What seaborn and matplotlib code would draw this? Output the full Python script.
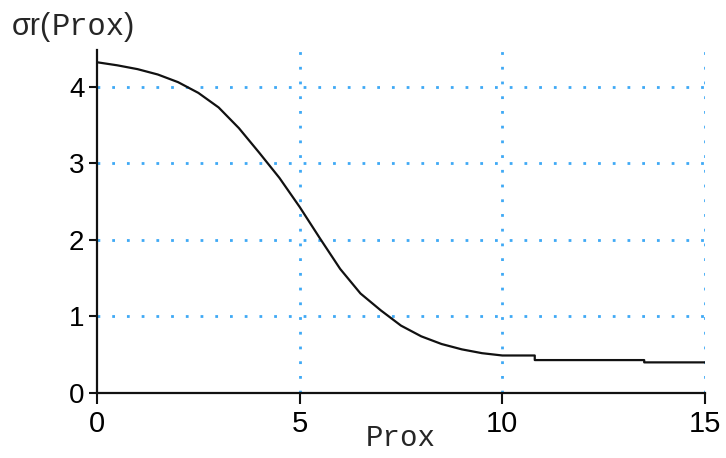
import numpy as np
import pandas as pd
import matplotlib
matplotlib.use("Agg")
import matplotlib.pyplot as plt
import seaborn as sns
from matplotlib.offsetbox import TextArea, HPacker, AnchoredOffsetbox

# curve
prox = [0, 0.5, 1, 1.5, 2, 2.5, 3, 3.5, 4, 4.5, 5, 5.5, 6, 6.5, 7, 7.5,
        8, 8.5, 9, 9.5, 10, 10.8, 10.8, 13.5, 13.5, 15]
sigma_r = [4.32, 4.28, 4.23, 4.16, 4.06, 3.92, 3.73, 3.46, 3.14, 2.81, 2.43,
           2.02, 1.62, 1.30, 1.08, 0.88, 0.74, 0.64, 0.57, 0.52, 0.49, 0.49,
           0.43, 0.43, 0.40, 0.40]
x_ticks = [0, 5, 10, 15]
y_ticks = [0, 1, 2, 3, 4]

GRID = '#3fa9f5'
SANS = 'Liberation Sans'
MONO = 'Liberation Mono'

sns.set_theme(style='white')
plt.rcParams['font.family'] = [SANS, 'DejaVu Sans']

df = pd.DataFrame({'Prox': prox, 'sigma': sigma_r})

fig = plt.figure(figsize=(7.26, 4.58), dpi=100)
ax = fig.add_axes([97 / 726, 1 - 393 / 458, 608 / 726, 343 / 458])

for v in x_ticks[1:]:
    ax.axvline(v, color=GRID, lw=2, ls=(0, (1, 4.3)), zorder=1)
for v in y_ticks[1:]:
    ax.axhline(v, color=GRID, lw=2, ls=(0, (1, 4.3)), zorder=1)

sns.lineplot(data=df, x='Prox', y='sigma', ax=ax, color='#111111',
             lw=1.6, sort=False, estimator=None, zorder=3)

ax.set_xlim(0, 15)
ax.set_ylim(0, 4.48)
ax.set_xticks(x_ticks)
ax.set_yticks(y_ticks)
ax.tick_params(axis='both', direction='out', width=1.5, color='#111111',
               labelcolor='black', left=True, bottom=True)
ax.tick_params(axis='x', length=8, pad=4, labelsize=21)
ax.tick_params(axis='y', length=6, pad=3, labelsize=20)
for s in ['top', 'right']:
    ax.spines[s].set_visible(False)
for s in ['left', 'bottom']:
    ax.spines[s].set_color('#111111')
    ax.spines[s].set_linewidth(1.6)

ax.set_xlabel('Prox', family=MONO, fontsize=21, labelpad=-10)
ax.set_ylabel('')

# y label "σr(Prox)" mixing sans and mono
parts = [TextArea('σr(', textprops=dict(family=SANS, size=22)),
         TextArea('Prox', textprops=dict(family=MONO, size=22)),
         TextArea(')', textprops=dict(family=SANS, size=22))]
box = HPacker(children=parts, align='baseline', pad=0, sep=0)
anchored = AnchoredOffsetbox(loc='upper left', child=box, pad=0, frameon=False,
                             bbox_to_anchor=(12 / 726, 1 - 12 / 458),
                             bbox_transform=fig.transFigure, borderpad=0)
fig.add_artist(anchored)

fig.savefig('out.png', dpi=100)
